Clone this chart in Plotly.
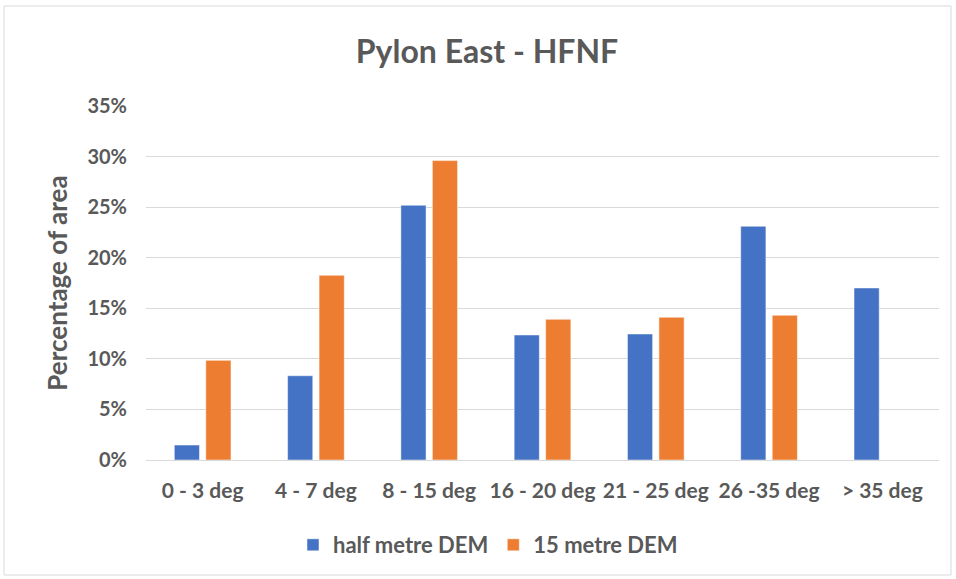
import plotly.graph_objects as go

categories = ["0 - 3 deg", "4 - 7 deg", "8 - 15 deg", "16 - 20 deg", "21 - 25 deg", "26 -35 deg", "> 35 deg"]
half_metre = [0.0148, 0.0833, 0.2519, 0.1236, 0.1246, 0.2311, 0.1701]
fifteen_metre = [0.0985, 0.1826, 0.2960, 0.1391, 0.1411, 0.1431, 0.0]
series_names = ["half metre DEM", "15 metre DEM"]

W, H = 956, 579
ml, mr, mt, mb = 146, 17, 106, 119
pw, ph = W - ml - mr, H - mt - mb

FONT = "Lato, Open Sans, sans-serif"
gray = "#595959"

fig = go.Figure()
fig.add_trace(go.Bar(x=categories, y=half_metre, name="<b>" + series_names[0] + "</b>",
                     marker=dict(color="#4472C4", line=dict(color="white", width=0.5))))
fig.add_trace(go.Bar(x=categories, y=fifteen_metre, name="<b>" + series_names[1] + "</b>",
                     marker=dict(color="#ED7D31", line=dict(color="white", width=0.5))))

fig.update_layout(
    width=W, height=H,
    margin=dict(l=ml, r=mr, t=mt, b=mb),
    paper_bgcolor="white", plot_bgcolor="white",
    barmode="group", bargap=0.444, bargroupgap=0.2,
    font=dict(family=FONT, color=gray),
    title=dict(text="<b>Pylon East - HFNF</b>", x=(487 - ml) / pw, xref="paper", xanchor="center",
               y=1 - 52 / H, yanchor="middle",
               font=dict(size=32, color=gray, family=FONT)),
    showlegend=True,
    legend=dict(orientation="h", x=(488 - ml) / pw, xanchor="center",
                y=(mt + ph - 545) / ph, yanchor="middle",
                font=dict(size=22, color=gray), itemwidth=30,
                traceorder="normal"),
)
fig.update_yaxes(range=[0, 0.35], dtick=0.05, tickformat=".0%",
                 showgrid=True, gridcolor="#d9d9d9", gridwidth=1,
                 zeroline=True, zerolinecolor="#d9d9d9", zerolinewidth=1,
                 showline=False, ticks="", ticklabelstandoff=18,
                 tickfont=dict(size=20, color=gray),
                 tickprefix="<b>", ticksuffix="</b>",
                 title=dict(text="<b>Percentage of area</b>", standoff=12,
                            font=dict(size=26, color=gray)))
fig.update_xaxes(showgrid=False, showline=False, ticks="",
                 tickfont=dict(size=21, color=gray), ticklabelstandoff=16,
                 tickprefix="<b>", ticksuffix="</b>")

# outer border of the chart area
fig.add_shape(type="rect", xref="paper", yref="paper",
              x0=(4 - ml) / pw, x1=(951 - ml) / pw,
              y0=(mt + ph - 575) / ph, y1=(mt + ph - 6) / ph,
              line=dict(color="#d9d9d9", width=1), fillcolor="rgba(0,0,0,0)", layer="below")

fig.write_html("out.html", config={"displayModeBar": False},
               post_script="document.body.style.margin='0';")
